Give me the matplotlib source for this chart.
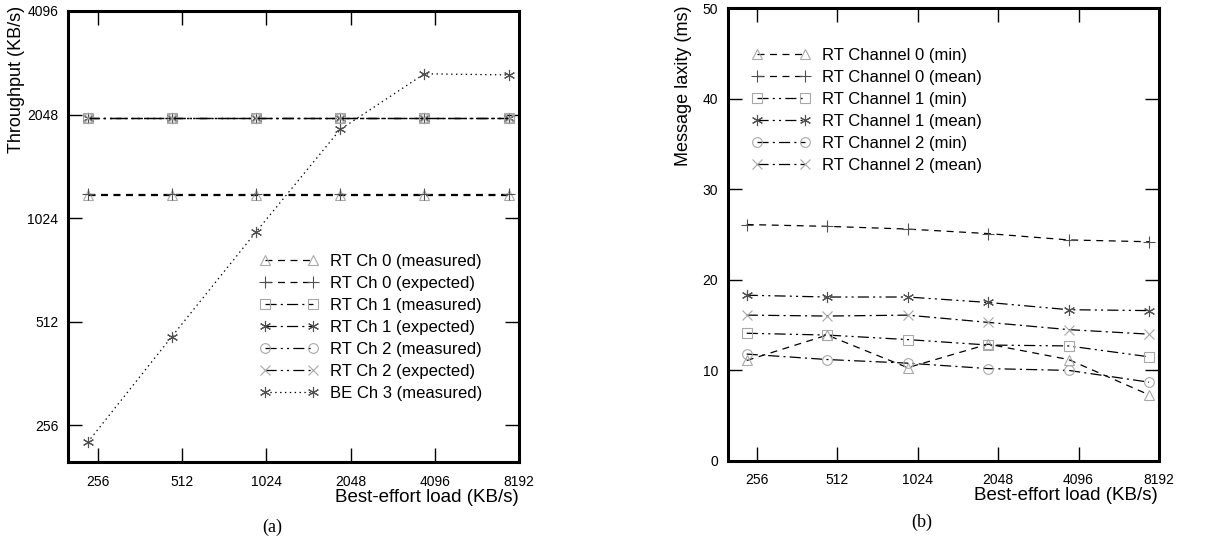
import numpy as np
import matplotlib
matplotlib.use("Agg")
import matplotlib.pyplot as plt
from matplotlib.ticker import FixedLocator, FixedFormatter, NullLocator

plt.rcParams['font.family'] = ['Liberation Sans', 'DejaVu Sans']
plt.rcParams['lines.scale_dashes'] = False

# x positions of the measurements (best-effort load, KB/s)
load = [235, 470, 940, 1880, 3760, 7520]
x_ticks = [256, 512, 1024, 2048, 4096, 8192]

# (a) throughput, KB/s
ch0_measured = [1195, 1195, 1195, 1195, 1195, 1195]
ch0_expected = [1200, 1200, 1200, 1200, 1200, 1200]
ch1_measured = [1995, 1995, 1995, 1995, 1995, 1995]
ch1_expected = [2000, 2000, 2000, 2000, 2000, 2000]
ch2_measured = [1995, 1995, 1995, 1995, 1995, 1995]
ch2_expected = [2000, 2000, 2000, 2000, 2000, 2000]
be_ch3 = [228, 463, 933, 1853, 2690, 2670]
thr_ticks = [256, 512, 1024, 2048, 4096]

# (b) message laxity, ms
ch0_min = [11.1, 13.9, 10.3, 12.9, 11.2, 7.3]
ch0_mean = [26.1, 25.9, 25.6, 25.1, 24.4, 24.2]
ch1_min = [14.1, 13.9, 13.4, 12.8, 12.7, 11.5]
ch1_mean = [18.3, 18.1, 18.1, 17.5, 16.7, 16.6]
ch2_min = [11.8, 11.2, 10.8, 10.2, 10.0, 8.7]
ch2_mean = [16.1, 16.0, 16.1, 15.3, 14.5, 14.0]

asterisk = (6, 2, 0)
dashed = (0, (5, 4))
dashdot = (0, (8, 3, 1.5, 3))
dashdotdot = (0, (8, 3, 1.5, 3, 1.5, 3))
dotted = (0, (1, 2.5))
light = '#a8a8a8'
dark = '#505050'


def style_axes(ax):
    for s in ax.spines.values():
        s.set_linewidth(2.2)
    ax.tick_params(direction='in', length=10, width=1.0, top=True, right=True,
                   labelsize=10, pad=7)
    ax.tick_params(axis='x', pad=9)
    ax.set_xscale('log', base=2)
    ax.set_xlim(200, 8192)
    ax.xaxis.set_major_locator(FixedLocator(x_ticks))
    ax.xaxis.set_major_formatter(FixedFormatter([str(t) for t in x_ticks]))
    ax.xaxis.set_minor_locator(NullLocator())


def series(ax, y, marker, mcolor, ls, label, ms=7):
    ax.plot(load, y, color='black', lw=0.9, linestyle=ls, marker=marker,
            markersize=ms, markerfacecolor='none', markeredgecolor=mcolor,
            markeredgewidth=0.8, label=label)


legend_kw = dict(loc='upper left', frameon=False, numpoints=2,
                 handlelength=3.45, handletextpad=0.72, labelspacing=0.42,
                 borderpad=0, borderaxespad=0, fontsize=12)

fig = plt.figure(figsize=(12.1, 5.43), dpi=100)

# ---- (a) ----
ax1 = fig.add_axes([68 / 1210, 81 / 543, 451 / 1210, 451 / 543])
style_axes(ax1)
ax1.set_yscale('log', base=2)
ax1.set_ylim(200, 4096)
ax1.yaxis.set_major_locator(FixedLocator(thr_ticks))
ax1.yaxis.set_major_formatter(FixedFormatter([str(t) for t in thr_ticks]))
ax1.yaxis.set_minor_locator(NullLocator())

series(ax1, ch0_measured, '^', light, dashed, 'RT Ch 0 (measured)')
series(ax1, ch0_expected, '+', dark, dashed, 'RT Ch 0 (expected)', ms=9)
series(ax1, ch1_measured, 's', light, dashdot, 'RT Ch 1 (measured)')
series(ax1, ch1_expected, asterisk, dark, dashdot, 'RT Ch 1 (expected)', ms=8)
series(ax1, ch2_measured, 'o', light, dashdotdot, 'RT Ch 2 (measured)')
series(ax1, ch2_expected, 'x', light, dashdotdot, 'RT Ch 2 (expected)')
series(ax1, be_ch3, asterisk, dark, dotted, 'BE Ch 3 (measured)', ms=8)

ax1.legend(bbox_to_anchor=(0.426, 0.461), **legend_kw)

# ---- (b) ----
ax2 = fig.add_axes([728 / 1210, 82 / 543, 431 / 1210, 453 / 543])
style_axes(ax2)
ax2.set_ylim(0, 50)
ax2.set_yticks([0, 10, 20, 30, 40, 50])

series(ax2, ch0_min, '^', light, dashed, 'RT Channel 0 (min)')
series(ax2, ch0_mean, '+', dark, dashed, 'RT Channel 0 (mean)', ms=9)
series(ax2, ch1_min, 's', light, dashdotdot, 'RT Channel 1 (min)')
series(ax2, ch1_mean, asterisk, dark, dashdotdot, 'RT Channel 1 (mean)', ms=8)
series(ax2, ch2_min, 'o', light, dashdot, 'RT Channel 2 (min)')
series(ax2, ch2_mean, 'x', light, dashdot, 'RT Channel 2 (mean)')

ax2.legend(bbox_to_anchor=(0.056, 0.912), **legend_kw)

# axis titles, placed like the original (label at the top of the y axis)
fig.text(17 / 1210, 1 - 6 / 543, 'Throughput (KB/s)', rotation=90,
         ha='center', va='top', fontsize=13)
fig.text(519 / 1210, 1 - 498 / 543, 'Best-effort load (KB/s)',
         ha='right', va='center', fontsize=13.5)
fig.text(683 / 1210, 1 - 6 / 543, 'Message laxity (ms)', rotation=90,
         ha='center', va='top', fontsize=13)
fig.text(1158 / 1210, 1 - 496 / 543, 'Best-effort load (KB/s)',
         ha='right', va='center', fontsize=13.5)

fig.text(272 / 1210, 1 - 527 / 543, '(a)', family='Liberation Serif',
         ha='center', va='center', fontsize=13)
fig.text(922 / 1210, 1 - 522 / 543, '(b)', family='Liberation Serif',
         ha='center', va='center', fontsize=13)

fig.savefig('out.png', dpi=100)
